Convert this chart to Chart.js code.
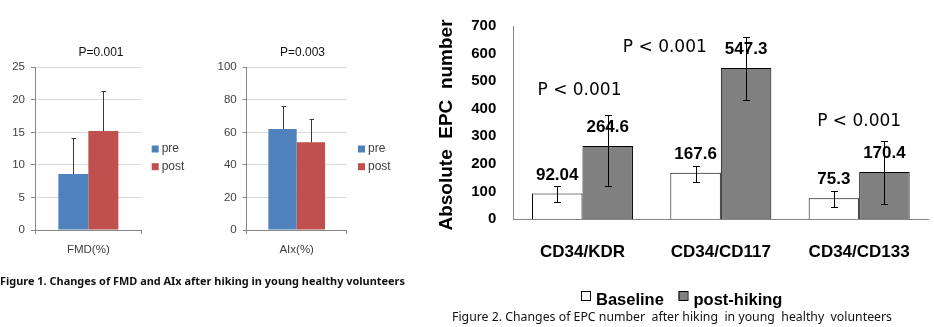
<!DOCTYPE html>
<html>
<head>
<meta charset="utf-8">
<script src="https://cdn.jsdelivr.net/npm/chart.js@4/dist/chart.umd.min.js"></script>
<style>
  html, body { margin: 0; padding: 0; background: #fff; width: 934px; height: 327px; overflow: hidden; }
  body { position: relative; }
  canvas { position: absolute; display: block; }
  svg { position: absolute; left: 0; top: 0; }
</style>
</head>
<body>
<canvas id="fmd" width="200" height="230" style="left:0;top:30px"></canvas>
<canvas id="aix" width="203" height="230" style="left:200px;top:30px"></canvas>
<canvas id="epc" width="514" height="310" style="left:420px;top:0"></canvas>
<svg width="934" height="327">
  <text x="0" y="285" textLength="405" lengthAdjust="spacingAndGlyphs"
        font-family="Noto Sans, Open Sans, sans-serif" font-weight="bold" font-size="11" fill="#111">Figure 1. Changes of FMD and AIx after hiking in young healthy volunteers</text>
  <text x="452" y="321" textLength="440" lengthAdjust="spacingAndGlyphs" style="white-space:pre"
        font-family="Noto Sans, Open Sans, sans-serif" font-size="12" fill="#111">Figure 2. Changes of EPC number  after hiking  in young  healthy  volunteers</text>
</svg>
<script>
// ---- Figure 1: FMD and AIx, pre vs post ----
const fmdCategory = ['FMD(%)'];
const aixCategory = ['AIx(%)'];
const prePostNames = ['pre', 'post'];
const fmdPre = [8.6];
const fmdPost = [15.2];
const fmdPreSD = [5.6];
const fmdPostSD = [6.1];
const aixPre = [62.1];
const aixPost = [53.9];
const aixPreSD = [14.3];
const aixPostSD = [14.1];
const fmdTicks = [0, 5, 10, 15, 20, 25];
const aixTicks = [0, 20, 40, 60, 80, 100];
const fmdPLabel = 'P=0.001';
const aixPLabel = 'P=0.003';

// ---- Figure 2: EPC counts, baseline vs post-hiking ----
const epcCategories = ['CD34/KDR', 'CD34/CD117', 'CD34/CD133'];
const epcSeriesNames = ['Baseline', 'post-hiking'];
const epcBaseline = [92.04, 167.6, 75.3];
const epcPostHiking = [264.6, 547.3, 170.4];
const epcBaselineErrUp = [27, 25, 26];
const epcBaselineErrDown = [32, 32, 31];
const epcPostErrUp = [111, 112, 112];
const epcPostErrDown = [146, 115, 117];
const epcTicks = [0, 100, 200, 300, 400, 500, 600, 700];
const epcPLabels = ['P < 0.001', 'P < 0.001', 'P < 0.001'];
const epcYTitle = 'Absolute  EPC  number';

const BLUE = '#4F81BD';
const RED = '#C0504D';
const AXIS_GRAY = '#868686';
const SMALL_FONT = 'Liberation Sans, Arial, sans-serif';

function tickSetter(list) {
  return scale => { scale.ticks = list.map(v => ({ value: v })); };
}

function smallChart(canvasId, cats, pre, post, preSD, postSD, ticks, pLabel, area, legendX) {
  const cv = document.getElementById(canvasId);
  const W = cv.width, H = cv.height;
  const sds = [preSD, postSD];
  const decor = {
    id: 'decor_' + canvasId,
    afterDatasetsDraw(chart) {
      const ctx = chart.ctx, ys = chart.scales.y;
      ctx.save();
      ctx.strokeStyle = '#3a3a3a';
      ctx.lineWidth = 1;
      sds.forEach((sd, di) => {
        chart.getDatasetMeta(di).data.forEach((bar, i) => {
          const v = chart.data.datasets[di].data[i];
          const x = Math.round(bar.x) + 0.5;
          const yTop = Math.round(ys.getPixelForValue(v + sd[i])) + 0.5;
          ctx.beginPath();
          ctx.moveTo(x, bar.y);
          ctx.lineTo(x, yTop);
          ctx.moveTo(x - 2, yTop);
          ctx.lineTo(x + 2.5, yTop);
          ctx.stroke();
        });
      });
      ctx.restore();
    },
    afterDraw(chart) {
      const ctx = chart.ctx;
      ctx.save();
      ctx.fillStyle = '#111';
      ctx.font = '12px ' + SMALL_FONT;
      ctx.textAlign = 'center';
      ctx.textBaseline = 'middle';
      ctx.fillText(pLabel, W / 2 + 1, 22.7);
      const colors = [BLUE, RED];
      const rowsY = [119, 136.7];
      ctx.font = '12px ' + SMALL_FONT;
      ctx.textAlign = 'left';
      prePostNames.forEach((name, i) => {
        ctx.fillStyle = colors[i];
        ctx.fillRect(legendX, rowsY[i] - 3.5, 7, 7);
        ctx.fillStyle = '#404040';
        ctx.fillText(name, legendX + 10, rowsY[i]);
      });
      ctx.restore();
    }
  };
  return new Chart(cv, {
    type: 'bar',
    data: {
      labels: cats,
      datasets: [
        { label: prePostNames[0], data: pre, backgroundColor: BLUE, borderWidth: 0 },
        { label: prePostNames[1], data: post, backgroundColor: RED, borderWidth: 0 }
      ]
    },
    options: {
      responsive: false,
      animation: false,
      devicePixelRatio: 1,
      layout: { padding: { left: 0, top: area.top, right: W - area.right, bottom: 0 } },
      datasets: { bar: { categoryPercentage: area.barShare, barPercentage: 1 } },
      plugins: { legend: { display: false }, tooltip: { enabled: false }, title: { display: false } },
      scales: {
        x: {
          grid: { offset: true, drawOnChartArea: false, drawTicks: true, tickLength: 4, color: AXIS_GRAY },
          border: { color: AXIS_GRAY },
          ticks: { color: '#404040', font: { family: SMALL_FONT, size: 11.5 }, padding: 9 },
          afterFit: s => { s.height = H - area.bottom; }
        },
        y: {
          min: ticks[0],
          max: ticks[ticks.length - 1],
          afterBuildTicks: tickSetter(ticks),
          grid: { color: '#D9D9D9', tickColor: AXIS_GRAY, tickLength: 4 },
          border: { color: AXIS_GRAY },
          ticks: { color: '#404040', font: { family: SMALL_FONT, size: 11.5 }, padding: 6 },
          afterFit: s => { s.width = area.left; }
        }
      }
    },
    plugins: [decor]
  });
}

smallChart('fmd', fmdCategory, fmdPre, fmdPost, fmdPreSD, fmdPostSD, fmdTicks, fmdPLabel,
  { left: 35, right: 141.7, top: 37.3, bottom: 200, barShare: 0.5625 }, 151.7);
smallChart('aix', aixCategory, aixPre, aixPost, aixPreSD, aixPostSD, aixTicks, aixPLabel,
  { left: 46.7, right: 146.7, top: 37.3, bottom: 200, barShare: 0.567 }, 158);

// ---- EPC chart ----
(function () {
  const cv = document.getElementById('epc');
  const W = cv.width, H = cv.height;
  const area = { left: 93.3, right: 509.3, top: 14, bottom: 219 };
  const BOLD = 'bold 17px Liberation Sans, Arial, sans-serif';
  const errUp = [epcBaselineErrUp, epcPostErrUp];
  const errDown = [epcBaselineErrDown, epcPostErrDown];
  // where each P label sits: horizontal shift from the group centre (px) and height (axis units)
  const pPlacement = [{ dx: -3, at: 465 }, { dx: -56, at: 622 }, { dx: 0, at: 355 }];

  const decor = {
    id: 'epcDecor',
    afterDatasetsDraw(chart) {
      const ctx = chart.ctx, ys = chart.scales.y, xs = chart.scales.x;
      ctx.save();
      // error bars
      ctx.strokeStyle = '#000';
      ctx.lineWidth = 1;
      [0, 1].forEach(di => {
        chart.getDatasetMeta(di).data.forEach((bar, i) => {
          const v = chart.data.datasets[di].data[i];
          const x = Math.round(bar.x) + 0.5;
          const yT = Math.round(ys.getPixelForValue(v + errUp[di][i])) + 0.5;
          const yB = Math.round(ys.getPixelForValue(v - errDown[di][i])) + 0.5;
          ctx.beginPath();
          ctx.moveTo(x, yT); ctx.lineTo(x, yB);
          ctx.moveTo(x - 3.5, yT); ctx.lineTo(x + 3.5, yT);
          ctx.moveTo(x - 3.5, yB); ctx.lineTo(x + 3.5, yB);
          ctx.stroke();
        });
      });
      // value labels
      ctx.fillStyle = '#000';
      ctx.font = BOLD;
      ctx.textAlign = 'center';
      ctx.textBaseline = 'middle';
      [0, 1].forEach(di => {
        chart.getDatasetMeta(di).data.forEach((bar, i) => {
          ctx.fillText(String(chart.data.datasets[di].data[i]), bar.x, bar.y - 18.5);
        });
      });
      // significance labels
      ctx.font = '17px DejaVu Sans, sans-serif';
      epcPLabels.forEach((t, i) => {
        const p = pPlacement[i];
        ctx.fillText(t, xs.getPixelForValue(i) + p.dx, ys.getPixelForValue(p.at));
      });
      ctx.restore();
    },
    afterDraw(chart) {
      const ctx = chart.ctx;
      ctx.save();
      ctx.fillStyle = '#000';
      // y-axis title
      ctx.translate(26.7, 125);
      ctx.rotate(-Math.PI / 2);
      ctx.font = 'bold 19px Liberation Sans, Arial, sans-serif';
      ctx.textAlign = 'center';
      ctx.textBaseline = 'middle';
      ctx.fillText(epcYTitle, 0, 0);
      ctx.setTransform(1, 0, 0, 1, 0, 0);
      // legend
      const fills = ['#ffffff', '#808080'];
      const boxX = [161, 258.5];
      ctx.font = 'bold 16.5px Liberation Sans, Arial, sans-serif';
      ctx.textAlign = 'left';
      ctx.textBaseline = 'alphabetic';
      ctx.lineWidth = 1;
      ctx.strokeStyle = '#000';
      epcSeriesNames.forEach((name, i) => {
        ctx.fillStyle = fills[i];
        ctx.fillRect(boxX[i], 291, 9, 9);
        ctx.strokeRect(boxX[i] + 0.5, 291.5, 9, 9);
        ctx.fillStyle = '#000';
        ctx.fillText(name, boxX[i] + 15, 305);
      });
      ctx.restore();
    }
  };

  new Chart(cv, {
    type: 'bar',
    data: {
      labels: epcCategories,
      datasets: [
        { label: epcSeriesNames[0], data: epcBaseline, backgroundColor: '#ffffff', borderColor: '#000', borderWidth: 1 },
        { label: epcSeriesNames[1], data: epcPostHiking, backgroundColor: '#808080', borderColor: '#000', borderWidth: 1 }
      ]
    },
    options: {
      responsive: false,
      animation: false,
      devicePixelRatio: 1,
      layout: { padding: { left: 0, top: area.top, right: W - area.right, bottom: 0 } },
      datasets: { bar: { categoryPercentage: 0.73, barPercentage: 1 } },
      plugins: { legend: { display: false }, tooltip: { enabled: false }, title: { display: false } },
      scales: {
        x: {
          grid: { display: false, drawTicks: false, tickLength: 0 },
          border: { color: AXIS_GRAY, width: 1 },
          ticks: { color: '#000', font: { family: 'Liberation Sans, Arial, sans-serif', size: 17, weight: 'bold' }, padding: 23.5 },
          afterFit: s => { s.height = H - area.bottom; }
        },
        y: {
          min: epcTicks[0],
          max: epcTicks[epcTicks.length - 1],
          afterBuildTicks: tickSetter(epcTicks),
          grid: { display: false, drawTicks: false, tickLength: 0 },
          border: { color: AXIS_GRAY, width: 1 },
          ticks: { color: '#000', font: { family: 'Liberation Sans, Arial, sans-serif', size: 15, weight: 'bold' }, padding: 17 },
          afterFit: s => { s.width = area.left; }
        }
      }
    },
    plugins: [decor]
  });
})();
</script>
</body>
</html>
